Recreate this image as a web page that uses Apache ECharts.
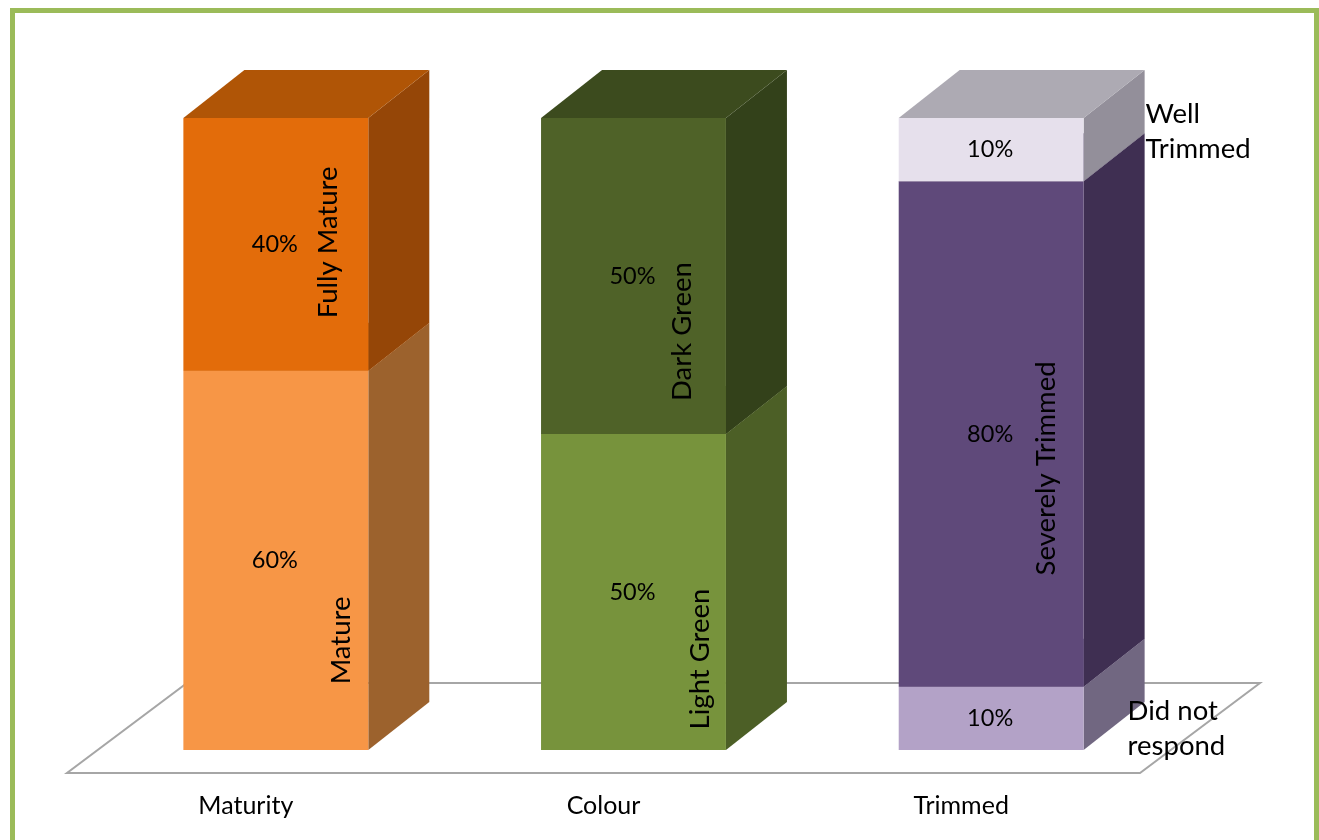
<!DOCTYPE html>
<html>
<head>
<meta charset="utf-8">
<title>Maturity, Colour and Trimming</title>
<script src="https://cdn.jsdelivr.net/npm/echarts@6/dist/echarts.min.js"></script>
<style>
  html, body { margin: 0; padding: 0; background: #ffffff; }
  #chart { width: 1319px; height: 840px; }
</style>
</head>
<body>
<div id="chart"></div>
<script>
// ---- data ----
const categories = ['Maturity', 'Colour', 'Trimmed'];

const maturityNames = ['Mature', 'Fully Mature'];
const maturityValues = [60, 40];

const colourNames = ['Light Green', 'Dark Green'];
const colourValues = [50, 50];

const trimmedNames = ['Did not respond', 'Severely Trimmed', 'Well Trimmed'];
const trimmedValues = [10, 80, 10];

// ---- styling ----
const FONT = 'Lato, "Open Sans", sans-serif';
const DEPTH_X = 61;   // box depth, pixels to the right
const DEPTH_Y = 48;   // box depth, pixels upward
const BAR_RATIO = 0.517;

// face colours: front, side (right), top
const faceColors = {
  'Mature':           { front: '#f79646', side: '#9c622d', top: '#c4752f' },
  'Fully Mature':     { front: '#e36c0a', side: '#954607', top: '#b05506' },
  'Light Green':      { front: '#77933c', side: '#4c5f26', top: '#5d742e' },
  'Dark Green':       { front: '#4f6228', side: '#33411a', top: '#3c4b1e' },
  'Did not respond':  { front: '#b3a2c7', side: '#716781', top: '#8e82a0' },
  'Severely Trimmed': { front: '#5f497a', side: '#3f2f52', top: '#4a3a60' },
  'Well Trimmed':     { front: '#e6e0ec', side: '#938f9a', top: '#adaab3' }
};

// where each segment's name is written: 'side' = rotated inside the front face,
// 'outside' = horizontal text to the right of the box
const namePlacement = {
  'Mature':           { kind: 'side', dx: -27, fy: 0.289 },
  'Fully Mature':     { kind: 'side', dx: -40, fy: 0.508 },
  'Light Green':      { kind: 'side', dx: -26, fy: 0.288 },
  'Dark Green':       { kind: 'side', dx: -44, fy: 0.324 },
  'Did not respond':  { kind: 'outside', dx: -17, fy: 0.34 },
  'Severely Trimmed': { kind: 'side', dx: -37, fy: 0.432 },
  'Well Trimmed':     { kind: 'outside', dx: 1, fy: 0.79 }
};

// ---- stacked segments: [category index, start, end, value] ----
const groups = [
  [maturityNames, maturityValues],
  [colourNames, colourValues],
  [trimmedNames, trimmedValues]
];
const segments = [];
groups.forEach(function (g, ci) {
  let acc = 0;
  g[1].forEach(function (v, k) {
    segments.push({ value: [ci, acc, acc + v, v], name: g[0][k] });
    acc += v;
  });
});

function wrapLast(s) {
  const i = s.lastIndexOf(' ');
  return i < 0 ? s : s.slice(0, i) + '\n' + s.slice(i + 1);
}

function renderBox(params, api) {
  const ci = api.value(0);
  const start = api.value(1);
  const end = api.value(2);
  const val = api.value(3);
  const name = segments[params.dataIndex].name;
  const col = faceColors[name];
  const pb = api.coord([ci, start]);
  const pt = api.coord([ci, end]);
  const band = api.size([1, 0])[0];
  const w = band * BAR_RATIO;
  const x0 = pb[0] - w / 2, x1 = pb[0] + w / 2;
  const yb = pb[1], yt = pt[1];
  const children = [
    { type: 'polygon', z2: 1,
      shape: { points: [[x1, yb], [x1 + DEPTH_X, yb - DEPTH_Y], [x1 + DEPTH_X, yt - DEPTH_Y], [x1, yt]] },
      style: { fill: col.side } },
    { type: 'polygon', z2: 1,
      shape: { points: [[x0, yt], [x1, yt], [x1 + DEPTH_X, yt - DEPTH_Y], [x0 + DEPTH_X, yt - DEPTH_Y]] },
      style: { fill: col.top } },
    { type: 'rect', z2: 2,
      shape: { x: x0, y: yt, width: w, height: yb - yt },
      style: { fill: col.front } },
    { type: 'text', z2: 10,
      x: pb[0] - 1, y: (yb + yt) / 2,
      style: { text: val + '%', fill: '#000', fontFamily: FONT, fontSize: 23.5,
               align: 'center', verticalAlign: 'middle' } }
  ];
  const p = namePlacement[name];
  const ly = yb - (yb - yt) * p.fy;
  if (p.kind === 'side') {
    children.push({ type: 'text', z2: 10, x: x1 + p.dx, y: ly, rotation: Math.PI / 2,
      style: { text: name, fill: '#000', fontFamily: FONT, fontSize: 27.5,
               align: 'center', verticalAlign: 'middle' } });
  } else {
    children.push({ type: 'text', z2: 10, x: x1 + DEPTH_X + p.dx, y: ly,
      style: { text: wrapLast(name), fill: '#000', fontFamily: FONT, fontSize: 27.5,
               lineHeight: 35, align: 'left', verticalAlign: 'middle' } });
  }
  return { type: 'group', children: children };
}

// floor plane: front edge in front of the boxes, back edge behind them
const FLOOR_FRONT = [-30, 23];
const FLOOR_BACK = [90, -67];
function renderFloor(params, api) {
  const band = api.size([1, 0])[0];
  const a = api.coord([0, 0]);
  const b = api.coord([categories.length - 1, 0]);
  const L = a[0] - band / 2, R = b[0] + band / 2, y = a[1];
  return {
    type: 'polygon',
    shape: { points: [
      [L + FLOOR_FRONT[0], y + FLOOR_FRONT[1]],
      [R + FLOOR_FRONT[0], y + FLOOR_FRONT[1]],
      [R + FLOOR_BACK[0], y + FLOOR_BACK[1]],
      [L + FLOOR_BACK[0], y + FLOOR_BACK[1]]
    ] },
    style: { fill: '#ffffff', stroke: '#a6a6a6', lineWidth: 2 }
  };
}

const chart = echarts.init(document.getElementById('chart'), null, { renderer: 'canvas' });
chart.setOption({
  backgroundColor: '#ffffff',
  animation: false,
  graphic: [{
    type: 'rect', z: 100, silent: true,
    shape: { x: 12.5, y: 10.5, width: 1304, height: 900 },
    style: { fill: 'none', stroke: '#9bbb59', lineWidth: 5 }
  }],
  grid: { left: 97, right: 149, top: 118, bottom: 90 },
  xAxis: {
    type: 'category',
    data: categories,
    axisLine: { show: false },
    axisTick: { show: false },
    splitLine: { show: false },
    axisLabel: {
      margin: 43, color: '#000', fontFamily: FONT, fontSize: 25,
      padding: [0, 60, 0, 0]
    }
  },
  yAxis: { type: 'value', min: 0, max: 100, show: false },
  series: [
    { type: 'custom', name: 'floor', renderItem: renderFloor, data: [[0, 0]],
      clip: false, z: 1, silent: true },
    { type: 'custom', name: 'segments', renderItem: renderBox,
      encode: { x: 0, y: [1, 2] }, data: segments, clip: false, z: 2 }
  ]
});
</script>
</body>
</html>
